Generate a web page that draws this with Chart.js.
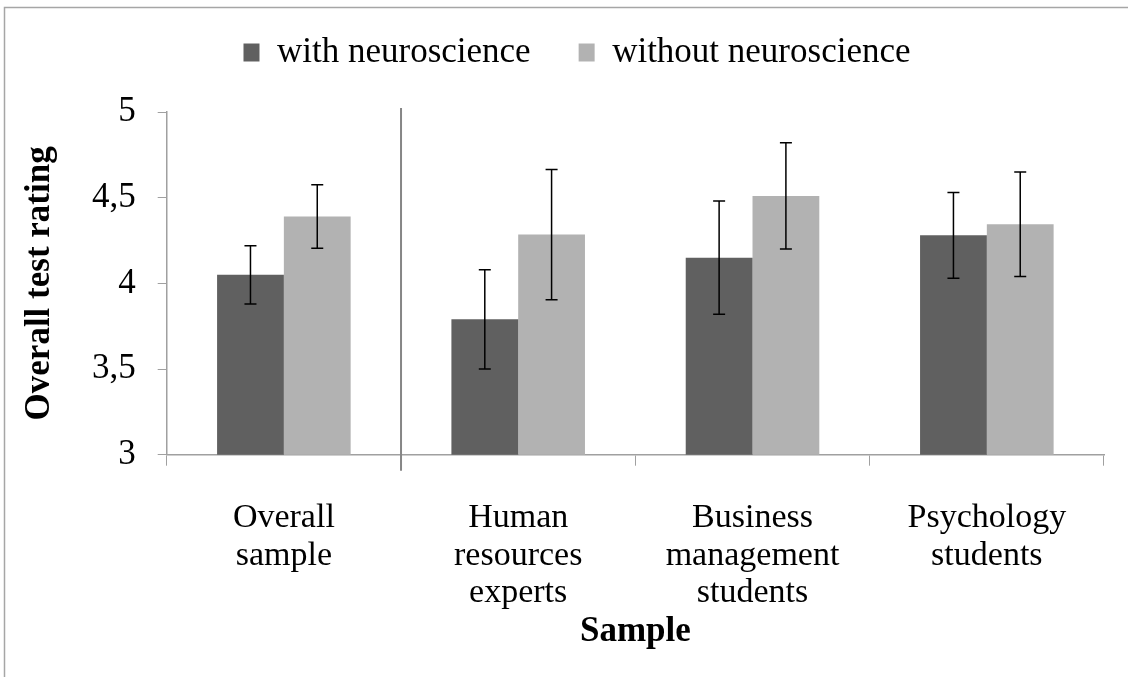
<!DOCTYPE html>
<html><head><meta charset="utf-8">
<script src="https://cdn.jsdelivr.net/npm/chart.js@4.4.1/dist/chart.umd.min.js"></script>
<style>html,body{margin:0;padding:0;background:#fff;overflow:hidden}</style>
</head><body>
<canvas id="c" width="1128" height="677"></canvas>
<script>
const categories = [['Overall','sample'],['Human','resources','experts'],['Business','management','students'],['Psychology','students']];
const seriesNames = ['with neuroscience','without neuroscience'];
const withMeans = [4.05, 3.79, 4.15, 4.28];
const withErrors = [0.17, 0.29, 0.33, 0.25];
const withoutMeans = [4.39, 4.285, 4.51, 4.345];
const withoutErrors = [0.185, 0.38, 0.31, 0.305];
const yTickValues = [3, 3.5, 4, 4.5, 5];
const yTickLabels = ['3', '3,5', '4', '4,5', '5'];
const xTitle = 'Sample';
const yTitle = 'Overall test rating';

const FONT = '"Liberation Serif", "Times New Roman", serif';
Chart.defaults.font.family = FONT;
Chart.defaults.color = '#000';

const errorsBySeries = [withErrors, withoutErrors];
const meansBySeries = [withMeans, withoutMeans];

const decoPlugin = {
  id: 'deco',
  afterLayout(chart) {
    const lg = chart.legend;
    if (lg) { lg.left += 16; lg.right += 16; lg.top -= 32; lg.bottom -= 32; }
  },
  beforeDraw(chart) {
    const ctx = chart.ctx;
    ctx.save();
    ctx.fillStyle = '#fff';
    ctx.fillRect(0, 0, chart.width, chart.height);
    ctx.strokeStyle = '#a6a6a6';
    ctx.lineWidth = 1.5;
    ctx.strokeRect(4.5, 7.5, chart.width + 20, chart.height + 20);
    ctx.restore();
  },
  afterDatasetsDraw(chart) {
    const ctx = chart.ctx;
    const y = chart.scales.y, x = chart.scales.x;
    ctx.save();
    const sepX = (x.getPixelForValue(0) + x.getPixelForValue(1)) / 2;
    ctx.strokeStyle = '#868686';
    ctx.lineWidth = 2;
    ctx.beginPath();
    ctx.moveTo(sepX, chart.chartArea.top - 4);
    ctx.lineTo(sepX, chart.chartArea.bottom + 16);
    ctx.stroke();
    ctx.strokeStyle = '#000';
    ctx.lineWidth = 1.5;
    meansBySeries.forEach((means, di) => {
      const meta = chart.getDatasetMeta(di);
      meta.data.forEach((bar, i) => {
        const e = errorsBySeries[di][i];
        const yt = y.getPixelForValue(means[i] + e);
        const yb = y.getPixelForValue(means[i] - e);
        const cx = bar.x;
        ctx.beginPath();
        ctx.moveTo(cx, yt); ctx.lineTo(cx, yb);
        ctx.moveTo(cx - 6, yt); ctx.lineTo(cx + 6, yt);
        ctx.moveTo(cx - 6, yb); ctx.lineTo(cx + 6, yb);
        ctx.stroke();
      });
    });
    ctx.restore();
  }
};

new Chart(document.getElementById('c'), {
  type: 'bar',
  data: {
    labels: categories,
    datasets: [
      { label: seriesNames[0], data: withMeans, backgroundColor: '#606060', borderWidth: 0 },
      { label: seriesNames[1], data: withoutMeans, backgroundColor: '#b2b2b2', borderWidth: 0 }
    ]
  },
  options: {
    responsive: false,
    animation: false,
    devicePixelRatio: 1,
    categoryPercentage: 0.57,
    barPercentage: 1.0,
    layout: { padding: { left: 18, right: 24, top: 19, bottom: 25 } },
    plugins: {
      tooltip: { enabled: false },
      legend: {
        position: 'top',
        labels: {
          font: { size: 35, family: FONT },
          boxWidth: 16, boxHeight: 18,
          padding: 48,
          color: '#000'
        }
      }
    },
    scales: {
      x: {
        afterFit(scale) { scale.height = 197.3; },
        grid: { drawOnChartArea: false, drawTicks: true, tickLength: 11, color: '#a0a0a0', offset: true },
        border: { display: true, color: '#a0a0a0', width: 1.5 },
        ticks: { font: { size: 34, family: FONT, lineHeight: 1.1 }, padding: 34, maxRotation: 0, autoSkip: false, color: '#000' },
        title: { display: true, text: xTitle, font: { size: 35, weight: 'bold', family: FONT, lineHeight: 1.15 }, padding: { top: 0, bottom: 0 }, color: '#000' }
      },
      y: {
        min: 3, max: 5,
        afterBuildTicks(scale) { scale.ticks = yTickValues.map(v => ({ value: v })); },
        afterFit(scale) { scale.width = 148.7; },
        grid: { drawOnChartArea: false, drawTicks: true, tickLength: 9, color: '#a0a0a0' },
        border: { display: true, color: '#a0a0a0', width: 1.5 },
        ticks: {
          font: { size: 35, family: FONT },
          padding: 22,
          color: '#000',
          callback(value) { const k = yTickValues.indexOf(value); return k >= 0 ? yTickLabels[k] : ''; }
        },
        title: { display: true, text: yTitle, font: { size: 35, weight: 'bold', family: FONT, lineHeight: 1.15 }, padding: { top: 2, bottom: 0 }, color: '#000' }
      }
    }
  },
  plugins: [decoPlugin]
});
</script>
</body></html>
